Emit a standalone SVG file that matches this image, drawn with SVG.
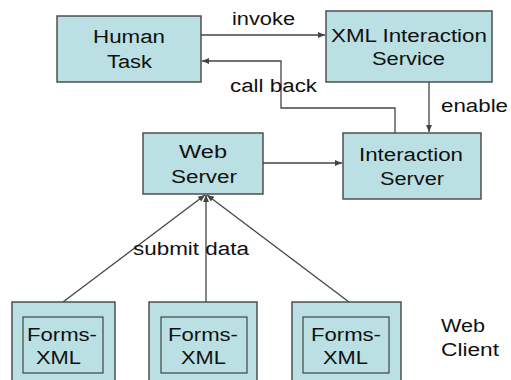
<svg xmlns="http://www.w3.org/2000/svg" width="511" height="380" viewBox="0 0 511 380">
<defs>
<style>
.box{fill:#bae0e3;stroke:#444;stroke-width:1.4}
.in{fill:none;stroke:#444;stroke-width:1.2}
.t{font-family:"Liberation Sans",Arial,sans-serif;font-size:18px;fill:#111}
.c{stroke:#444;stroke-width:1.3;fill:none}
</style>
<marker id="ah" markerWidth="8" markerHeight="8" refX="7" refY="4" orient="auto" markerUnits="userSpaceOnUse">
<path d="M0,1 L7,4 L0,7 Z" fill="#444"/>
</marker>
</defs>
<rect width="511" height="380" fill="#fff"/>
<g id="connectors">
<line class="c" x1="201" y1="35" x2="325" y2="35" marker-end="url(#ah)"/>
<polyline class="c" points="395,133 395,108 281,108 281,61 202,61" marker-end="url(#ah)"/>
<line class="c" x1="429" y1="82" x2="429" y2="132" marker-end="url(#ah)"/>
<line class="c" x1="263" y1="163" x2="342" y2="163" marker-end="url(#ah)"/>
<line class="c" x1="63" y1="302" x2="205" y2="195" marker-end="url(#ah)"/>
<line class="c" x1="206" y1="302" x2="206" y2="195" marker-end="url(#ah)"/>
<line class="c" x1="349" y1="302" x2="207" y2="195" marker-end="url(#ah)"/>
<text class="t" x="232" y="25" textLength="63" lengthAdjust="spacingAndGlyphs">invoke</text>
<text class="t" x="230" y="92" textLength="87" lengthAdjust="spacingAndGlyphs">call back</text>
<text class="t" x="441" y="112" textLength="67" lengthAdjust="spacingAndGlyphs">enable</text>
<text class="t" x="133" y="255" textLength="116" lengthAdjust="spacingAndGlyphs">submit data</text>
</g>
<g id="human-task">
<rect class="box" x="57" y="16" width="144" height="66"/>
<text class="t" x="93" y="43" textLength="72" lengthAdjust="spacingAndGlyphs">Human</text>
<text class="t" x="107" y="68" textLength="45" lengthAdjust="spacingAndGlyphs">Task</text>
</g>
<g id="xml-interaction-service">
<rect class="box" x="326" y="11" width="166" height="71"/>
<text class="t" x="331" y="42" textLength="156" lengthAdjust="spacingAndGlyphs">XML Interaction</text>
<text class="t" x="372" y="65" textLength="73" lengthAdjust="spacingAndGlyphs">Service</text>
</g>
<g id="web-server">
<rect class="box" x="143" y="133" width="120" height="61"/>
<text class="t" x="179" y="158" textLength="48" lengthAdjust="spacingAndGlyphs">Web</text>
<text class="t" x="171" y="183" textLength="66" lengthAdjust="spacingAndGlyphs">Server</text>
</g>
<g id="interaction-server">
<rect class="box" x="343" y="133" width="138" height="66"/>
<text class="t" x="359" y="161" textLength="104" lengthAdjust="spacingAndGlyphs">Interaction</text>
<text class="t" x="380" y="185" textLength="64" lengthAdjust="spacingAndGlyphs">Server</text>
</g>
<g id="forms-xml-1">
<rect class="box" x="12" y="302" width="103" height="90"/>
<rect class="in" x="23" y="317" width="80" height="56"/>
<text class="t" x="27" y="341" textLength="70" lengthAdjust="spacingAndGlyphs">Forms-</text>
<text class="t" x="36" y="364" textLength="45" lengthAdjust="spacingAndGlyphs">XML</text>
</g>
<g id="forms-xml-2">
<rect class="box" x="149" y="302" width="108" height="90"/>
<rect class="in" x="161" y="317" width="86" height="56"/>
<text class="t" x="168" y="341" textLength="70" lengthAdjust="spacingAndGlyphs">Forms-</text>
<text class="t" x="181" y="364" textLength="45" lengthAdjust="spacingAndGlyphs">XML</text>
</g>
<g id="forms-xml-3">
<rect class="box" x="292" y="302" width="109" height="90"/>
<rect class="in" x="303" y="317" width="86" height="56"/>
<text class="t" x="311" y="341" textLength="70" lengthAdjust="spacingAndGlyphs">Forms-</text>
<text class="t" x="323" y="364" textLength="45" lengthAdjust="spacingAndGlyphs">XML</text>
</g>
<g id="web-client">
<text class="t" x="441" y="332" textLength="44" lengthAdjust="spacingAndGlyphs">Web</text>
<text class="t" x="441" y="356" textLength="58" lengthAdjust="spacingAndGlyphs">Client</text>
</g>
</svg>
